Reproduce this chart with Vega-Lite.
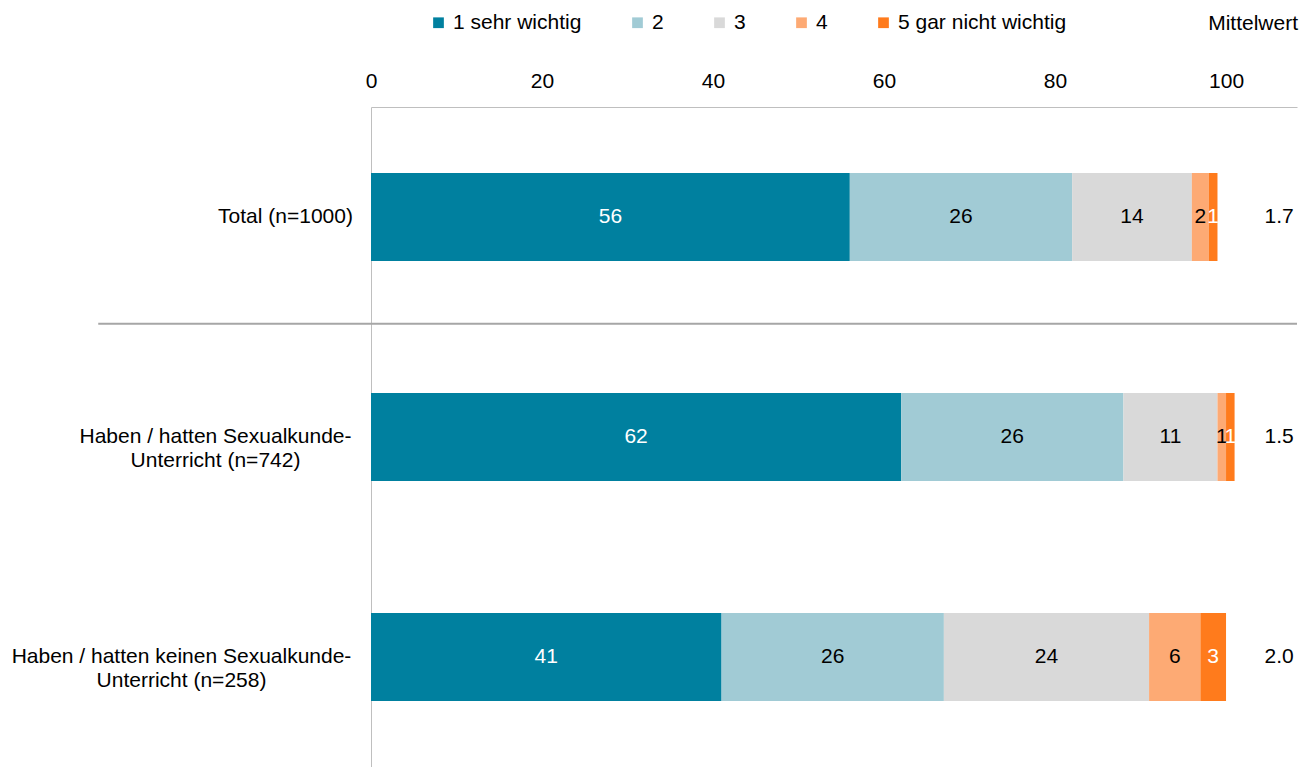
{
  "$schema": "https://vega.github.io/schema/vega-lite/v6.json",
  "width": 926,
  "height": 660,
  "autosize": {"type": "none"},
  "padding": {"left": 371, "top": 107, "right": 9, "bottom": 0},
  "background": "white",
  "config": {
    "view": {"stroke": null},
    "font": "Liberation Sans",
    "text": {"font": "Liberation Sans", "fontSize": 21}
  },
  "title": {
    "text": "Mittelwert",
    "anchor": "end",
    "fontSize": 21,
    "fontWeight": "normal",
    "font": "Liberation Sans",
    "color": "black",
    "offset": -22
  },
  "datasets": {
    "shares": [
      {"category": "Total (n=1000)", "level": "1 sehr wichtig", "value": 56},
      {"category": "Total (n=1000)", "level": "2", "value": 26},
      {"category": "Total (n=1000)", "level": "3", "value": 14},
      {"category": "Total (n=1000)", "level": "4", "value": 2},
      {"category": "Total (n=1000)", "level": "5 gar nicht wichtig", "value": 1},
      {"category": "Haben / hatten Sexualkunde-\nUnterricht (n=742)", "level": "1 sehr wichtig", "value": 62},
      {"category": "Haben / hatten Sexualkunde-\nUnterricht (n=742)", "level": "2", "value": 26},
      {"category": "Haben / hatten Sexualkunde-\nUnterricht (n=742)", "level": "3", "value": 11},
      {"category": "Haben / hatten Sexualkunde-\nUnterricht (n=742)", "level": "4", "value": 1},
      {"category": "Haben / hatten Sexualkunde-\nUnterricht (n=742)", "level": "5 gar nicht wichtig", "value": 1},
      {"category": "Haben / hatten keinen Sexualkunde-\nUnterricht (n=258)", "level": "1 sehr wichtig", "value": 41},
      {"category": "Haben / hatten keinen Sexualkunde-\nUnterricht (n=258)", "level": "2", "value": 26},
      {"category": "Haben / hatten keinen Sexualkunde-\nUnterricht (n=258)", "level": "3", "value": 24},
      {"category": "Haben / hatten keinen Sexualkunde-\nUnterricht (n=258)", "level": "4", "value": 6},
      {"category": "Haben / hatten keinen Sexualkunde-\nUnterricht (n=258)", "level": "5 gar nicht wichtig", "value": 3}
    ],
    "means": [
      {"category": "Total (n=1000)", "mean": 1.7},
      {"category": "Haben / hatten Sexualkunde-\nUnterricht (n=742)", "mean": 1.5},
      {"category": "Haben / hatten keinen Sexualkunde-\nUnterricht (n=258)", "mean": 2.0}
    ],
    "separator": [
      {"after": "Total (n=1000)"}
    ]
  },
  "layer": [
    {
      "data": {"name": "shares"},
      "layer": [
        {
          "mark": {"type": "bar", "height": {"band": 0.4}},
          "encoding": {
            "y": {
              "field": "category",
              "type": "nominal",
              "scale": {
                "domain": [
                  "Total (n=1000)",
                  "Haben / hatten Sexualkunde-\nUnterricht (n=742)",
                  "Haben / hatten keinen Sexualkunde-\nUnterricht (n=258)"
                ],
                "paddingInner": 0,
                "paddingOuter": 0
              },
              "axis": {
                "title": null,
                "ticks": false,
                "grid": false,
                "domainColor": "#bfbfbf",
                "domainWidth": 1,
                "labelFont": "Liberation Sans",
                "labelFontSize": 21,
                "labelColor": "black",
                "labelAlign": "center",
                "labelBaseline": "middle",
                "labelLineHeight": 24,
                "labelLimit": 0,
                "labelExpr": "split(datum.label, '\\n')",
                "labelPadding": {
                  "condition": [
                    {"test": "datum.value === 'Total (n=1000)'", "value": 86},
                    {"test": "indexof(datum.value, 'keinen') >= 0", "value": 190}
                  ],
                  "value": 156
                }
              }
            },
            "x": {
              "field": "value",
              "type": "quantitative",
              "stack": "zero",
              "scale": {"domain": [0, 108.3], "nice": false, "zero": false},
              "axis": {
                "orient": "top",
                "title": null,
                "values": [0, 20, 40, 60, 80, 100],
                "ticks": false,
                "grid": false,
                "domainColor": "#bfbfbf",
                "domainWidth": 1,
                "labelFont": "Liberation Sans",
                "labelFontSize": 21,
                "labelColor": "black",
                "labelPadding": 16,
                "labelFlush": false
              }
            },
            "order": {"field": "level", "type": "ordinal", "sort": "ascending"},
            "color": {
              "field": "level",
              "type": "nominal",
              "scale": {
                "domain": ["1 sehr wichtig", "2", "3", "4", "5 gar nicht wichtig"],
                "range": ["#00809f", "#a1cbd5", "#d9d9d9", "#fdaa74", "#ff7b1c"]
              },
              "legend": {
                "orient": "none",
                "direction": "horizontal",
                "legendX": 57,
                "legendY": -95,
                "title": null,
                "symbolType": "square",
                "symbolSize": 115,
                "symbolStrokeWidth": 0,
                "symbolOpacity": 1,
                "labelFont": "Liberation Sans",
                "labelFontSize": 21,
                "labelColor": "black",
                "labelLimit": 0,
                "labelOffset": 4,
                "columnPadding": 45
              }
            }
          }
        },
        {
          "mark": {"type": "text", "fontSize": 21, "align": "center", "baseline": "middle"},
          "encoding": {
            "y": {"field": "category", "type": "nominal"},
            "x": {"field": "value", "type": "quantitative", "stack": "zero", "bandPosition": 0.5},
            "detail": {"field": "level", "type": "nominal"},
            "order": {"field": "level", "type": "ordinal", "sort": "ascending"},
            "text": {"field": "value", "type": "quantitative"},
            "color": {
              "condition": {
                "test": "datum.level === '1 sehr wichtig' || datum.level === '5 gar nicht wichtig'",
                "value": "white"
              },
              "value": "black"
            }
          }
        }
      ]
    },
    {
      "data": {"name": "means"},
      "mark": {"type": "text", "fontSize": 21, "align": "center", "baseline": "middle", "color": "black"},
      "encoding": {
        "y": {"field": "category", "type": "nominal"},
        "x": {"datum": 106.2, "type": "quantitative"},
        "text": {"field": "mean", "type": "quantitative", "format": ".1f"}
      }
    },
    {
      "data": {"name": "separator"},
      "mark": {"type": "rule", "color": "#a6a6a6", "strokeWidth": 2},
      "encoding": {
        "y": {"field": "after", "type": "nominal", "bandPosition": 0.985},
        "x": {"datum": -31.9, "type": "quantitative"},
        "x2": {"datum": 108.3}
      }
    }
  ]
}
